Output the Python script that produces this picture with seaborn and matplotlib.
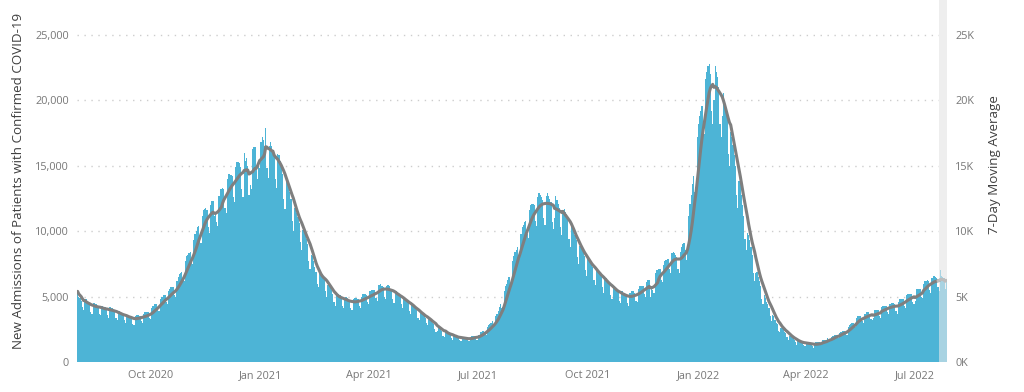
import numpy as np
import pandas as pd
import matplotlib
matplotlib.use("Agg")
import matplotlib.pyplot as plt
import seaborn as sns
from matplotlib.ticker import FuncFormatter

# Daily new admissions of patients with confirmed COVID-19, in hundreds
aug_2020 = [54,50,49,47,42,40,47,48,46,45,44,38,37,45,45,44,44,42,37,36,43,43,42,42,41,36,34,42,41,41,40]
sep_2020 = [39,34,32,38,39,38,37,36,32,30,36,36,35,35,34,29,28,35,36,36,36,35,31,30,37,38,38,38,38,34]
oct_2020 = [33,41,43,44,44,44,40,39,48,50,50,51,51,46,44,54,56,57,57,57,51,50,62,65,67,68,69,63,62,77,81]
nov_2020 = [82,83,84,76,75,93,98,100,103,104,93,91,112,116,117,118,116,103,99,120,123,123,112,115,107,104,127,132,132,133]
dec_2020 = [132,118,114,140,144,144,143,142,126,122,149,153,153,152,149,132,126,160,154,156,150,128,135,132,163,164,164,150,140,150,148]
jan_2021 = [168,172,170,165,179,148,141,165,168,165,162,158,140,133,159,158,154,150,144,125,117,140,139,135,130,125,108,100,118,118,114]
feb_2021 = [111,106,92,86,101,101,98,94,90,77,71,82,81,77,73,69,60,57,68,68,67,65,63,54,50,59,59,57]
mar_2021 = [55,52,46,43,52,52,52,51,49,43,41,49,50,49,48,47,41,40,48,49,49,49,48,43,41,50,52,52,52,51,46]
apr_2021 = [44,54,55,55,55,55,49,47,59,59,60,58,57,50,48,58,59,58,56,55,48,45,54,54,53,52,50,44,41,49]
may_2021 = [49,48,47,45,39,37,44,44,42,41,40,34,32,38,38,37,36,34,30,28,33,33,32,30,29,25,23,24,28,27,25]
jun_2021 = [24,20,19,23,23,22,22,21,18,17,20,20,20,19,19,17,16,19,19,19,18,18,16,16,19,20,20,20,20,17]
jul_2021 = [17,21,23,23,24,24,22,21,27,28,29,30,31,28,28,35,37,39,42,44,41,42,54,58,60,63,65,60,61,77,81]
aug_2021 = [84,86,88,80,79,98,103,105,107,108,98,95,116,120,121,121,120,108,104,126,129,128,126,124,110,105,127,129,127,125,122]
sep_2021 = [107,102,110,127,124,121,118,103,97,116,117,115,113,109,94,88,104,103,100,97,93,80,75,89,90,87,85,81,70,66]
oct_2021 = [79,79,77,75,73,63,59,71,71,69,68,65,57,53,64,64,62,61,59,51,48,58,58,56,55,54,47,45,54,54,53]
nov_2021 = [52,51,45,43,53,54,54,54,53,47,46,56,58,58,58,58,52,50,61,63,63,50,58,55,53,68,70,70,71,71]
dec_2021 = [63,61,74,77,78,79,79,71,68,83,84,83,82,80,71,68,84,88,90,91,86,78,86,112,121,128,136,142,130,134,172]
jan_2022 = [182,188,192,196,178,174,216,222,226,228,220,192,182,200,226,222,218,210,182,172,188,206,200,193,185,159,150,176,172,166,158]
feb_2022 = [150,128,118,138,136,128,120,112,94,86,99,97,93,88,82,68,62,68,69,65,62,58,48,44,51,49,46,44]
mar_2022 = [41,35,31,36,35,32,30,29,24,23,26,26,25,23,22,19,17,20,20,19,18,17,15,13,16,16,16,15,15,13,12]
apr_2022 = [15,15,15,14,14,12,11,14,15,15,15,15,13,13,17,17,17,17,18,16,16,19,20,20,21,21,19,18,22,23]
may_2022 = [24,24,24,22,21,27,28,29,30,30,27,27,34,35,35,35,34,31,30,37,38,38,38,37,33,32,34,40,40,40,40]
jun_2022 = [35,34,42,43,43,43,43,38,37,44,45,45,45,44,39,37,46,48,48,48,48,43,41,51,52,52,52,52,46,44]
jul_2022 = [47,56,56,56,56,50,49,60,62,62,63,62,55,53,64,66,66,65,64,57,54,70,66,65,64,56,62]

start_date = "2020-08-01"
provisional_days = 7  # most recent days, still incomplete

tick_dates = ["2020-10-01", "2021-01-01", "2021-04-01", "2021-07-01",
              "2021-10-01", "2022-01-01", "2022-04-01", "2022-07-01"]
tick_labels = ["Oct 2020", "Jan 2021", "Apr 2021", "Jul 2021",
               "Oct 2021", "Jan 2022", "Apr 2022", "Jul 2022"]

left_label = "New Admissions of Patients with Confirmed COVID-19"
right_label = "7-Day Moving Average"

months = [aug_2020, sep_2020, oct_2020, nov_2020, dec_2020, jan_2021, feb_2021,
          mar_2021, apr_2021, may_2021, jun_2021, jul_2021, aug_2021, sep_2021,
          oct_2021, nov_2021, dec_2021, jan_2022, feb_2022, mar_2022, apr_2022,
          may_2022, jun_2022, jul_2022]
values = np.concatenate([np.array(m, dtype=float) * 100 for m in months])
n = len(values)
start = pd.Timestamp(start_date)
df = pd.DataFrame({
    "date": pd.date_range(start, periods=n, freq="D"),
    "day": np.arange(n),
    "admissions": values,
})
df["ma"] = df["admissions"].rolling(7, min_periods=1).mean()
df["provisional"] = df["day"] >= n - provisional_days

BAR = "#4DB4D6"
BAR_LIGHT = "#A8D3E2"
LINE = "#7F7F7F"
LINE_LIGHT = "#BDBDBD"
TXT = "#777777"
LBL = "#3F3F3F"

sns.set_theme(style="white")
plt.rcParams["font.family"] = ["Open Sans", "DejaVu Sans"]

W, H = 1024, 392
fig = plt.figure(figsize=(W / 100, H / 100), dpi=100)
ax = fig.add_axes([77 / W, 30 / H, 870 / W, 362 / H])
ymax = 27676

ax.axvspan(n - provisional_days - 0.5, n - 0.5, color="#EEEEEE", zorder=1, lw=0)

sns.barplot(data=df[~df["provisional"]], x="day", y="admissions", native_scale=True,
            width=1, color=BAR, saturation=1, linewidth=0, errorbar=None, ax=ax, zorder=2)
sns.barplot(data=df[df["provisional"]], x="day", y="admissions", native_scale=True,
            width=1, color=BAR_LIGHT, saturation=1, linewidth=0, errorbar=None, ax=ax, zorder=2)

ax.set_xlim(-0.5, n - 0.5)
ax.set_ylim(0, ymax)
ax.set_axisbelow(True)
ax.set_yticks(range(0, 25001, 5000))
ax.yaxis.set_major_formatter(FuncFormatter(lambda v, p: f"{v:,.0f}"))
ax.yaxis.grid(True, linestyle=(0, (1, 4)), color="#CDCDCD", linewidth=1)
ax.xaxis.grid(False)
tick_pos = [(pd.Timestamp(t) - start).days for t in tick_dates]
ax.set_xticks(tick_pos)
ax.set_xticklabels(tick_labels)
ax.tick_params(axis="both", length=0, labelsize=7.8, labelcolor=TXT)
ax.tick_params(axis="y", pad=6)
ax.tick_params(axis="x", pad=6)
ax.set_xlabel("")
ax.set_ylabel(left_label, fontsize=9.6, color=LBL)
ax.yaxis.set_label_coords(-0.060, 0.5)
for s in ax.spines.values():
    s.set_visible(False)

ax2 = ax.twinx()
main = df[df["day"] <= n - provisional_days]
tail = df[df["day"] >= n - provisional_days - 1]
sns.lineplot(data=main, x="day", y="ma", color=LINE, linewidth=2.2, ax=ax2)
sns.lineplot(data=tail, x="day", y="ma", color=LINE_LIGHT, linewidth=2.2, ax=ax2)
ax2.set_ylim(0, ymax)
ax2.set_xlim(-0.5, n - 0.5)
ax2.set_yticks(range(0, 25001, 5000))
ax2.yaxis.set_major_formatter(FuncFormatter(lambda v, p: f"{v/1000:.0f}K"))
ax2.tick_params(axis="y", length=0, labelsize=7.8, labelcolor=TXT, pad=6)
ax2.set_xlabel("")
ax2.set_ylabel(right_label, fontsize=9.6, color=LBL)
ax2.yaxis.set_label_coords(1.047, 0.545)
for s in ax2.spines.values():
    s.set_visible(False)

fig.savefig("out.png", dpi=100)
